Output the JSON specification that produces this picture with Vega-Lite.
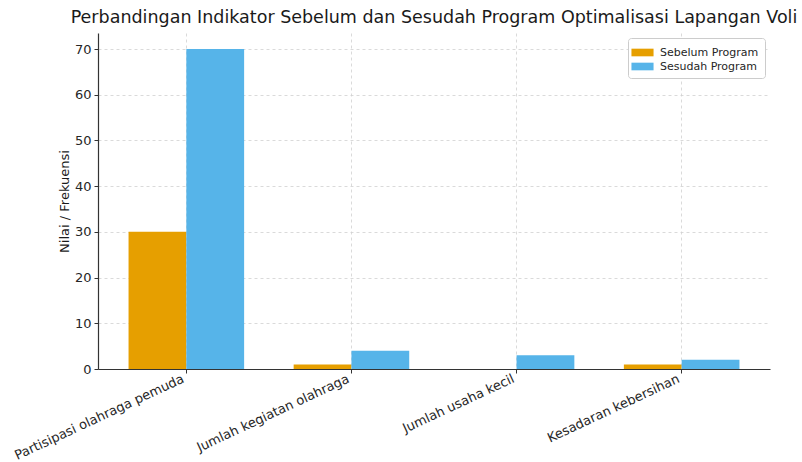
{
  "$schema": "https://vega.github.io/schema/vega-lite/v6.json",
  "width": 672,
  "height": 336,
  "autosize": {"type": "none"},
  "padding": {"left": 98, "top": 33, "right": 32, "bottom": 93},
  "background": "white",
  "title": {
    "text": "Perbandingan Indikator Sebelum dan Sesudah Program Optimalisasi Lapangan Voli",
    "font": "DejaVu Sans",
    "fontSize": 17.5,
    "fontWeight": "normal",
    "color": "#1a1a1a",
    "anchor": "middle",
    "offset": 7
  },
  "data": {
    "values": [
      {"Indikator": "Partisipasi olahraga pemuda", "Program": "Sebelum Program", "Nilai": 30},
      {"Indikator": "Partisipasi olahraga pemuda", "Program": "Sesudah Program", "Nilai": 70},
      {"Indikator": "Jumlah kegiatan olahraga", "Program": "Sebelum Program", "Nilai": 1},
      {"Indikator": "Jumlah kegiatan olahraga", "Program": "Sesudah Program", "Nilai": 4},
      {"Indikator": "Jumlah usaha kecil", "Program": "Sebelum Program", "Nilai": 0},
      {"Indikator": "Jumlah usaha kecil", "Program": "Sesudah Program", "Nilai": 3},
      {"Indikator": "Kesadaran kebersihan", "Program": "Sebelum Program", "Nilai": 1},
      {"Indikator": "Kesadaran kebersihan", "Program": "Sesudah Program", "Nilai": 2}
    ]
  },
  "config": {
    "view": {"stroke": null},
    "font": "DejaVu Sans"
  },
  "mark": {"type": "bar"},
  "encoding": {
    "x": {
      "field": "Indikator",
      "type": "nominal",
      "sort": null,
      "scale": {"paddingInner": 0.3, "paddingOuter": 0.185},
      "axis": {
        "title": null,
        "labelAngle": -25,
        "labelAlign": "right",
        "labelBaseline": "bottom",
        "labelFontSize": 13,
        "labelColor": "#262626",
        "labelPadding": 11,
        "bandPosition": 0.5,
        "grid": true,
        "gridDash": [3, 3],
        "gridColor": "#d0d0d0",
        "gridWidth": 0.8,
        "domainColor": "#333333",
        "domainWidth": 1.2,
        "tickColor": "#333333",
        "tickSize": 4,
        "ticks": true,
        "labelLimit": 300
      }
    },
    "xOffset": {
      "field": "Program",
      "type": "nominal",
      "sort": ["Sebelum Program", "Sesudah Program"],
      "scale": {"paddingInner": 0, "paddingOuter": 0}
    },
    "y": {
      "field": "Nilai",
      "type": "quantitative",
      "scale": {"domain": [0, 73.5], "nice": false},
      "axis": {
        "title": "Nilai / Frekuensi",
        "titleFontSize": 13,
        "titleFontWeight": "normal",
        "titleColor": "#1a1a1a",
        "titlePadding": 3,
        "values": [0, 10, 20, 30, 40, 50, 60, 70],
        "labelFontSize": 13,
        "labelColor": "#262626",
        "grid": true,
        "gridDash": [3, 3],
        "gridColor": "#d0d0d0",
        "gridWidth": 0.8,
        "domainColor": "#333333",
        "domainWidth": 1.2,
        "tickColor": "#333333",
        "tickSize": 4,
        "labelPadding": 3
      }
    },
    "color": {
      "field": "Program",
      "type": "nominal",
      "sort": ["Sebelum Program", "Sesudah Program"],
      "scale": {"domain": ["Sebelum Program", "Sesudah Program"], "range": ["#E69F00", "#56B4E9"]},
      "legend": {
        "title": null,
        "orient": "top-right",
        "offset": 5,
        "labelFontSize": 11,
        "labelColor": "#262626",
        "symbolType": "M-1.3,-0.45H1.3V0.45H-1.3Z",
        "symbolSize": 289,
        "symbolStrokeWidth": 0,
        "strokeColor": "#cccccc",
        "fillColor": "white",
        "padding": 6,
        "cornerRadius": 3,
        "rowPadding": 0,
        "labelOffset": 9
      }
    }
  }
}
